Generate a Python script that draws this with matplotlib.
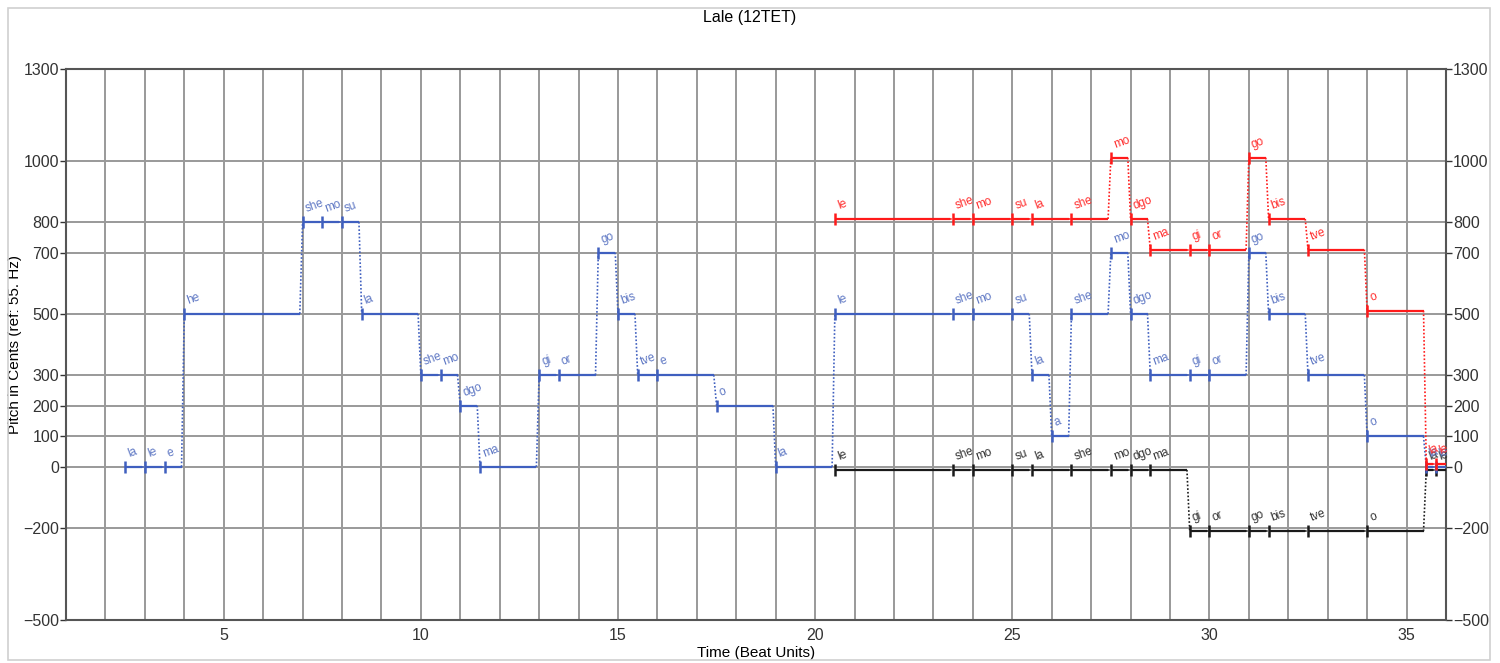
import matplotlib
matplotlib.use("Agg")
import matplotlib.pyplot as plt
from matplotlib.patches import Rectangle

plt.rcParams['font.family'] = ['Liberation Sans', 'DejaVu Sans']

# --- data -------------------------------------------------------------
blue_onsets = [2.5, 3, 3.5, 4, 7, 7.5, 8, 8.5, 10, 10.5, 11, 11.5, 13, 13.5,
               14.5, 15, 15.5, 16, 17.5, 19, 20.5, 23.5, 24, 25, 25.5, 26,
               26.5, 27.5, 28, 28.5, 29.5, 30, 31, 31.5, 32.5, 34, 35.5, 35.75]
blue_cents = [0, 0, 0, 500, 800, 800, 800, 500, 300, 300, 200, 0, 300, 300,
              700, 500, 300, 300, 200, 0, 500, 500, 500, 500, 300, 100,
              500, 700, 500, 300, 300, 300, 700, 500, 300, 100, 0, 0]
blue_syll = ['la', 'le', 'e', 'he', 'she', 'mo', 'su', 'la', 'she', 'mo', 'dgo',
             'ma', 'gi', 'or', 'go', 'bis', 'tve', 'e', 'o', 'la', 'le', 'she',
             'mo', 'su', 'la', 'a', 'she', 'mo', 'dgo', 'ma', 'gi', 'or', 'go',
             'bis', 'tve', 'o', 'la', 'le']

upper_onsets = [20.5, 23.5, 24, 25, 25.5, 26.5, 27.5, 28, 28.5, 29.5, 30, 31,
                31.5, 32.5, 34, 35.5, 35.75]
upper_syll = ['le', 'she', 'mo', 'su', 'la', 'she', 'mo', 'dgo', 'ma', 'gi',
              'or', 'go', 'bis', 'tve', 'o', 'la', 'le']
red_cents = [800, 800, 800, 800, 800, 800, 1000, 800, 700, 700, 700, 1000,
             800, 700, 500, 0, 0]
black_cents = [0, 0, 0, 0, 0, 0, 0, 0, 0, -200, -200, -200, -200, -200, -200,
               0, 0]

y_ticks = [-500, -200, 0, 100, 200, 300, 500, 700, 800, 1000, 1300]
x_ticks = [5, 10, 15, 20, 25, 30, 35]

# --- figure -----------------------------------------------------------
fig = plt.figure(figsize=(15, 6.63), dpi=100)
fig.patches.append(Rectangle((0.0053, 0.0045), 0.988, 0.983, transform=fig.transFigure,
                             fill=False, edgecolor='#d0d0d0', lw=1.2))
ax = fig.add_axes([0.044, 0.065, 0.920, 0.831])

GAP = 0.07


def draw_part(onsets, cents, sylls, color, text_color, shift, end=36):
    n = len(onsets)
    ends = onsets[1:] + [end]
    for i in range(n):
        x0 = onsets[i]
        y = cents[i] + shift
        stop = ends[i] - GAP if i < n - 1 else ends[i]
        ax.plot([x0, stop], [y, y], color=color, lw=1.6, solid_capstyle='butt', zorder=3)
        ax.plot([x0], [y], marker='|', ms=9, mew=1.8, color=color, zorder=3)
        if i < n - 1:
            ax.plot([stop, ends[i]], [y, cents[i + 1] + shift], color=color,
                    lw=1.2, ls=(0, (1, 1.2)), zorder=3)
        ax.text(x0 + 0.1, y + 32, sylls[i], color=text_color, fontsize=8.5,
                rotation=20, rotation_mode='anchor', ha='left', va='baseline', zorder=4)


draw_part(upper_onsets, black_cents, upper_syll, '#1a1a1a', '#333333', -10)
draw_part(blue_onsets, blue_cents, blue_syll, '#3f5fbf', '#5f78c4', 0)
draw_part(upper_onsets, red_cents, upper_syll, '#ff1a1a', '#ff3030', 10)

ax.set_xlim(1, 36)
ax.set_ylim(-500, 1300)
ax.set_xticks(range(1, 37), minor=True)
ax.set_xticks(x_ticks)
ax.set_yticks(y_ticks)
ax.grid(True, which='both', axis='x', color='#999999', lw=1.4, zorder=0)
ax.grid(True, which='major', axis='y', color='#999999', lw=1.4, zorder=0)
ax.set_axisbelow(True)
ax.tick_params(axis='y', which='both', left=True, right=True, labelleft=True,
               labelright=True, length=4, width=1, colors='#333333', labelsize=11.5,
               pad=1)
ax.tick_params(axis='x', which='both', length=0, labelsize=11.5, colors='#333333', pad=6)
for s in ax.spines.values():
    s.set_color('#555555')
    s.set_linewidth(1.5)

ax.set_xlabel('Time (Beat Units)', fontsize=11, labelpad=2)
ax.set_ylabel('Pitch in Cents (ref: 55. Hz)', fontsize=11, va='center')
ax.yaxis.set_label_coords(-0.037, 0.5)
fig.suptitle('Lale (12TET)', y=0.985, fontsize=11.5)

fig.savefig('out.png', dpi=100)
